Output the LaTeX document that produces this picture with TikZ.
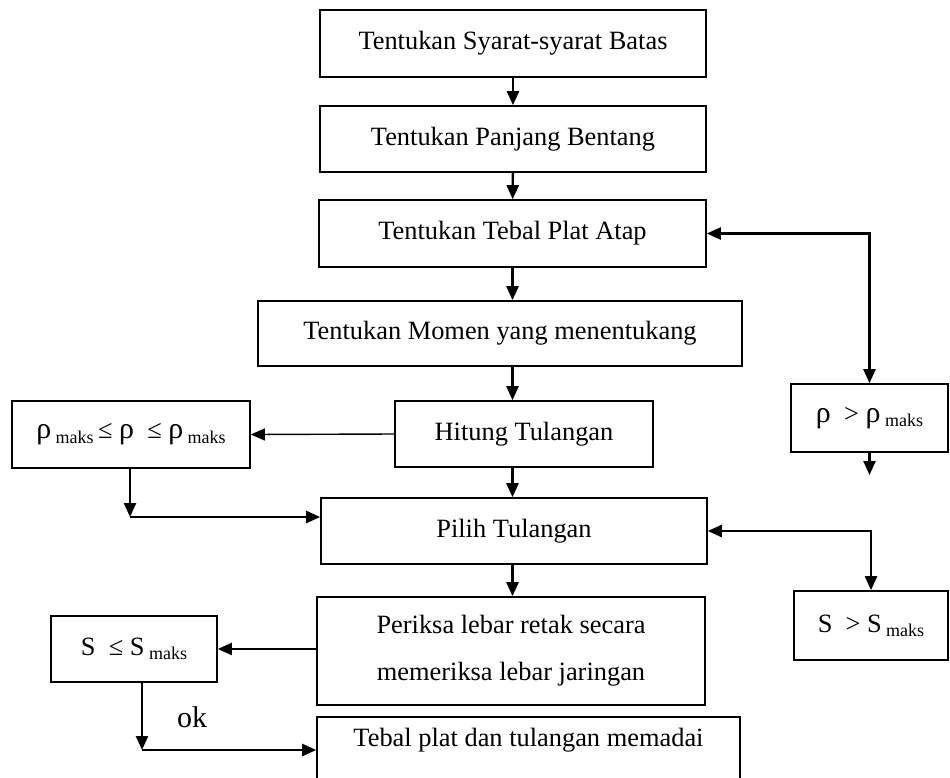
\documentclass[tikz,border=0pt]{standalone}
\usepackage{fontspec}
\setmainfont{Liberation Serif}
\usetikzlibrary{arrows.meta}
\newcommand\mks{\,\raisebox{-0.35ex}{\fontsize{9}{10}\selectfont maks}}
\newcommand\rh{{\fontsize{15}{16}\selectfont ρ}}
\begin{document}
\begin{tikzpicture}[x=0.5pt,y=-0.5pt,
    >={Triangle[length=7pt,width=6pt]},
    kotak/.style={draw,line width=0.8pt,inner sep=2pt,font=\fontsize{13.2}{23.5}\selectfont},
    panah/.style={line width=1.2pt}]
    \useasboundingbox (0,0) rectangle (950,778);
    \node[kotak,minimum width=193pt,minimum height=33.5pt] (syarat) at (513,43.5) {Tentukan Syarat-syarat Batas};
    \node[kotak,minimum width=193pt,minimum height=33pt] (panjang) at (513,139) {Tentukan Panjang Bentang};
    \node[kotak,minimum width=193.5pt,minimum height=33.5pt] (tebal) at (512.5,233.5) {Tentukan Tebal Plat Atap};
    \node[kotak,minimum width=242pt,minimum height=32.5pt] (momen) at (500,333.5) {Tentukan Momen yang menentukang};
    \node[kotak,minimum width=129pt,minimum height=33pt] (hitung) at (524,434) {Hitung Tulangan};
    \node[kotak,minimum width=119pt,minimum height=33.5pt] (rrange) at (131,434.5) {\rh\mks\,≤ \rh\ \ ≤ \rh\mks};
    \node[kotak,minimum width=78.5pt,minimum height=34pt] (rbig) at (869.5,418) {\rh\ \ > \rh\mks};
    \node[kotak,minimum width=193pt,minimum height=33pt] (pilih) at (514,531) {Pilih Tulangan};
    \node[kotak,align=center,minimum width=194pt,minimum height=54pt] (periksa) at (511,651) {Periksa lebar retak secara\\memeriksa lebar jaringan};
    \node[kotak,minimum width=83pt,minimum height=33pt] (sok) at (134,649) {S \ ≤ S\mks};
    \node[kotak,minimum width=77pt,minimum height=34.5pt] (sbig) at (871,625.5) {S \ > S\mks};
    \node[kotak,anchor=north,minimum width=211.5pt,inner sep=5pt,text height=10pt,text depth=40pt] (memadai) at (528.5,716) {Tebal plat dan tulangan memadai};
    \node[font=\fontsize{15}{18}\selectfont] (ok) at (192,717) {ok};
    \coordinate (j1) at (130,517);
    \coordinate (j2) at (142,750);
    \coordinate (r2) at (869.5,475);
    \draw[panah,->] (syarat) -- (panjang);
    \draw[panah,->] (panjang) -- (tebal);
    \draw[panah,->] (tebal) -- (tebal |- momen.north);
    \draw[panah,->] (tebal |- momen.south) -- (tebal |- hitung.north);
    \draw[panah,->] (tebal |- hitung.south) -- (tebal |- pilih.north);
    \draw[panah,->] (tebal |- pilih.south) -- (tebal |- periksa.north);
    \draw[line width=0.7pt,->] (hitung.west) -- (rrange.east);
    \draw[panah,->] (j1 |- rrange.south) -- (j1);
    \draw[panah,->] (j1) -- (j1 -| pilih.west);
    \draw[panah,<->] (tebal.east) -| (rbig.north);
    \draw[panah,->] (rbig.south) -- (r2);
    \draw[panah,<->] (pilih.east) -| (sbig.north);
    \draw[panah,->] (sok.east -| periksa.west) -- (sok.east);
    \draw[panah,->] (j2 |- sok.south) -- (j2);
    \draw[panah,->] (j2) -- (j2 -| memadai.west);
\end{tikzpicture}
\end{document}
